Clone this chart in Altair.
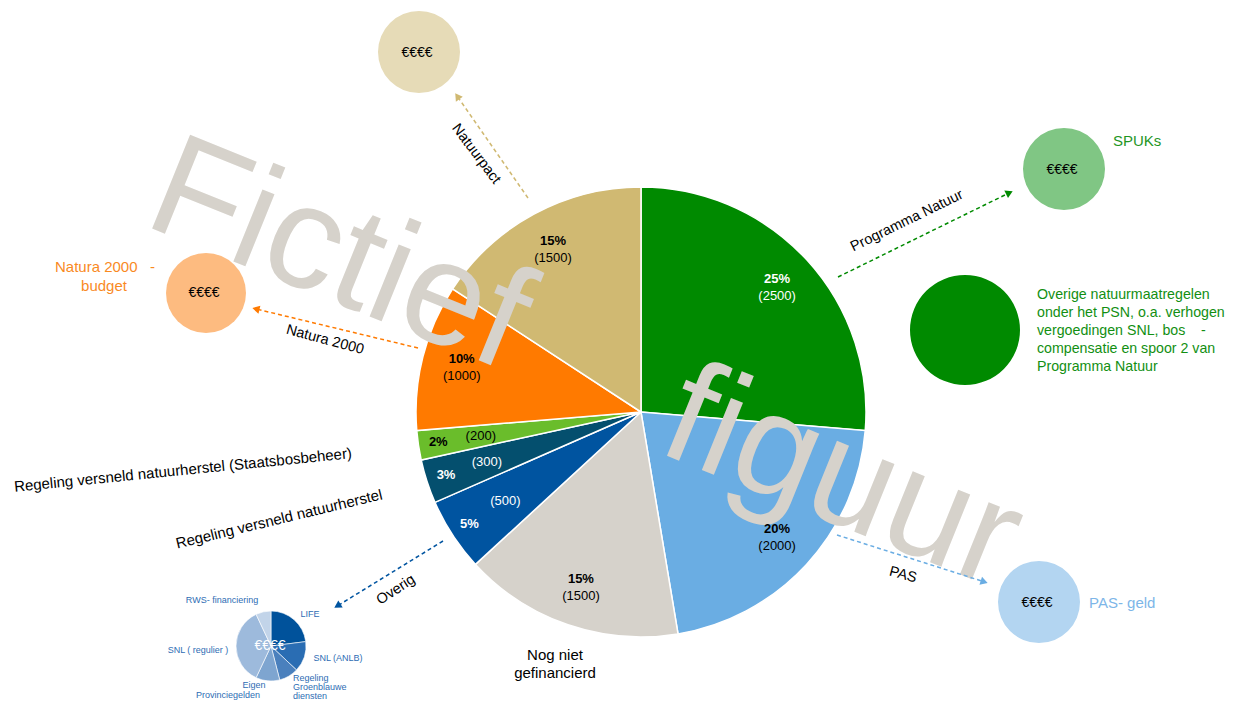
import math
import altair as alt
import pandas as pd

FONT = "Liberation Sans"

# ---------------- data: main pie (clockwise from 12 o'clock) ----------------
categories = ["Programma Natuur", "PAS", "Nog niet gefinancierd", "Overig",
              "Regeling versneld natuurherstel",
              "Regeling versneld natuurherstel (Staatsbosbeheer)",
              "Natura 2000", "Natuurpact"]
values = [2500, 2000, 1500, 500, 300, 200, 1000, 1500]
percents = [25, 20, 15, 5, 3, 2, 10, 15]
slice_colors = ["#008a00", "#6aade3", "#d6d2cb", "#0054a0",
                "#044f6e", "#6abd2b", "#ff7a00", "#d0b972"]
label_colors = ["#ffffff", "#000000", "#000000", "#ffffff",
                "#ffffff", "#000000", "#000000", "#000000"]

# ---------------- data: 'Overig' sub pie ----------------
sub_categories = ["LIFE", "SNL (ANLB)", "Regeling Groenblauwe diensten",
                  "Eigen Provinciegelden", "SNL (regulier)", "RWS-financiering"]
sub_values = [23, 14, 9, 11, 36, 7]
sub_colors = ["#00529b", "#2a6db3", "#4a80bd", "#7ea5d0", "#9dbadc", "#c2d4e9"]

# ---------------- annotation texts ----------------
flow_labels = ["Natuurpact", "Natura 2000", "Programma Natuur", "PAS", "Overig"]
flow_colors = ["#d0b972", "#ff7a00", "#008a00", "#6aade3", "#0054a0"]
target_colors = ["#e6dbb7", "#fdbb80", "#80c684", "#b3d5f1"]
euro = "€€€€"
NB = "\u00a0"
overige_lines = ["Overige natuurmaatregelen", "onder het PSN, o.a. verhogen",
                 "vergoedingen SNL, bos" + NB * 4 + "-", "compensatie en spoor 2 van",
                 "Programma Natuur"]
watermark_words = ["Fictief", "figuur"]

# ---------------- layout (page pixel frame) ----------------
W, H = 1221, 694
SX = alt.Scale(domain=[8, 8 + W], nice=False, zero=False)
SY = alt.Scale(domain=[8 + H, 8], nice=False, zero=False)
PIE_C = (641, 412)
PIE_R = 225
SUB_C = (271, 646)
SUB_R = 35

arrow_from = [(528, 198), (418, 348), (838, 277), (837, 535), (443, 541)]
arrow_to = [(455, 93), (252, 308), (1013, 191), (988, 583), (334, 608)]
flow_label_pos = [(476, 154, 53), (325, 340, 15), (907, 221, 334), (903, 575, 15), (396, 590, 327)]
circle_pos = [(419, 52, 41), (206, 293, 40), (1064, 169, 41), (1039, 602, 41)]
euro_pos = [(417, 53), (204, 293), (1062, 170), (1037, 603)]
big_circle = (965, 330, 55)

# ---------------- frames ----------------
n = len(values)
big = [p >= 6 for p in percents]
pie_df = pd.DataFrame({
    "idx": list(range(n)), "cat": categories, "value": values,
    "color": slice_colors, "tcol": label_colors,
    "pct_big": [f"{p}%" if b else "" for p, b in zip(percents, big)],
    "val_big": [f"({v})" if b else "" for v, b in zip(values, big)],
    "pct_small": [f"{p}%" if not b else "" for p, b in zip(percents, big)],
    "val_small": [f"({v})" if not b else "" for v, b in zip(values, big)],
})
sub_df = pd.DataFrame({"idx": list(range(len(sub_values))), "cat": sub_categories,
                       "value": sub_values, "color": sub_colors})

cx, cy = PIE_C[0] - 8, PIE_C[1] - 8
scx, scy = SUB_C[0] - 8, SUB_C[1] - 8

arc = alt.Chart(pie_df).mark_arc(outerRadius=PIE_R, stroke="white", strokeWidth=1.5).encode(
    theta=alt.Theta("value:Q", stack=True), order=alt.Order("idx:Q"),
    color=alt.Color("color:N", scale=None), x=alt.value(cx), y=alt.value(cy))


def pie_text(field, radius, dy, bold):
    return alt.Chart(pie_df).mark_text(
        radius=radius, dy=dy, fontSize=13, font=FONT,
        fontWeight="bold" if bold else "normal", align="center", baseline="middle"
    ).encode(theta=alt.Theta("value:Q", stack=True), order=alt.Order("idx:Q"),
             x=alt.value(cx), y=alt.value(cy), text=alt.Text(f"{field}:N"),
             color=alt.Color("tcol:N", scale=None))


pie_labels = [pie_text("pct_big", 185, -8, True), pie_text("val_big", 185, 9, False),
              pie_text("pct_small", 205, 0, True), pie_text("val_small", 162, 0, False)]

sub_arc = alt.Chart(sub_df).mark_arc(outerRadius=SUB_R, stroke="white", strokeWidth=0.6).encode(
    theta=alt.Theta("value:Q", stack=True), order=alt.Order("idx:Q"),
    color=alt.Color("color:N", scale=None), x=alt.value(scx), y=alt.value(scy))

# watermark
wm_df = pd.DataFrame({"text": watermark_words, "x": [141, 655], "y": [224, 451], "angle": [22, 22]})
watermark = alt.Chart(wm_df).mark_text(
    align="left", baseline="alphabetic", fontSize=147, font=FONT, color="#d6d2cb"
).encode(x=alt.X("x:Q", scale=SX, axis=None), y=alt.Y("y:Q", scale=SY, axis=None),
         text="text:N", angle=alt.Angle("angle:Q", scale=None))

# circles (Vega circle symbol: size = (2r)^2)
circ_df = pd.DataFrame({
    "x": [p[0] for p in circle_pos] + [big_circle[0]],
    "y": [p[1] for p in circle_pos] + [big_circle[1]],
    "size": [(2 * p[2]) ** 2 for p in circle_pos] + [(2 * big_circle[2]) ** 2],
    "color": target_colors + ["#008a00"],
})
circles = alt.Chart(circ_df).mark_circle(opacity=1).encode(
    x=alt.X("x:Q", scale=SX, axis=None), y=alt.Y("y:Q", scale=SY, axis=None),
    size=alt.Size("size:Q", scale=None), color=alt.Color("color:N", scale=None))

# arrows
rows, heads = [], []
for (x1, y1), (x2, y2), col in zip(arrow_from, arrow_to, flow_colors):
    dx, dy = x2 - x1, y2 - y1
    L = math.hypot(dx, dy)
    ux, uy = dx / L, dy / L
    rows.append({"x": x1, "y": y1, "x2": x2 - 7 * ux, "y2": y2 - 7 * uy, "color": col})
    ang = math.degrees(math.atan2(dx, -dy)) % 360
    heads.append({"x": x2 - 4 * ux, "y": y2 - 4 * uy, "angle": ang, "color": col})
arrow_df = pd.DataFrame(rows)
head_df = pd.DataFrame(heads)
arrows = alt.Chart(arrow_df).mark_rule(strokeDash=[4, 3], strokeWidth=1.5).encode(
    x=alt.X("x:Q", scale=SX, axis=None), y=alt.Y("y:Q", scale=SY, axis=None),
    x2="x2:Q", y2="y2:Q", color=alt.Color("color:N", scale=None))
arrowheads = alt.Chart(head_df).mark_point(shape="triangle-up", filled=True, size=70, opacity=1).encode(
    x=alt.X("x:Q", scale=SX, axis=None), y=alt.Y("y:Q", scale=SY, axis=None),
    angle=alt.Angle("angle:Q", scale=None), color=alt.Color("color:N", scale=None))

# centered (possibly rotated) texts
ctext_rows = []
for t, (x, y, a) in zip(flow_labels, flow_label_pos):
    ctext_rows.append({"text": t, "x": x, "y": y, "angle": a, "size": 14.5, "color": "#000000"})
ctext_rows += [
    {"text": "Regeling versneld natuurherstel (Staatsbosbeheer)", "x": 183, "y": 470, "angle": 354.3, "size": 15, "color": "#000000"},
    {"text": "Regeling versneld natuurherstel", "x": 279, "y": 519, "angle": 346.5, "size": 15, "color": "#000000"},
    {"text": "Nog niet", "x": 555, "y": 655, "angle": 0, "size": 15, "color": "#000000"},
    {"text": "gefinancierd", "x": 555, "y": 673, "angle": 0, "size": 15, "color": "#000000"},
    {"text": "Natura 2000" + NB * 3 + "-", "x": 105, "y": 267, "angle": 0, "size": 15, "color": "#f98a1f"},
    {"text": "budget", "x": 104, "y": 286, "angle": 0, "size": 15, "color": "#f98a1f"},
]
for (x, y) in euro_pos:
    ctext_rows.append({"text": euro, "x": x, "y": y, "angle": 0, "size": 14, "color": "#000000"})
ctext_rows.append({"text": euro, "x": SUB_C[0] - 1, "y": SUB_C[1], "angle": 0, "size": 14, "color": "#ffffff"})
sub_lab_color = "#2e6db4"
for t, x, y in [("RWS- financiering", 222, 600), ("LIFE", 310, 614), ("SNL ( regulier )", 198, 650),
                ("SNL (ANLB)", 338, 658), ("Eigen", 254, 685), ("Provinciegelden", 228, 695)]:
    ctext_rows.append({"text": t, "x": x, "y": y, "angle": 0, "size": 9, "color": sub_lab_color})
ctext_df = pd.DataFrame(ctext_rows)
ctexts = alt.Chart(ctext_df).mark_text(align="center", baseline="middle", font=FONT).encode(
    x=alt.X("x:Q", scale=SX, axis=None), y=alt.Y("y:Q", scale=SY, axis=None),
    text="text:N", angle=alt.Angle("angle:Q", scale=None),
    size=alt.Size("size:Q", scale=None), color=alt.Color("color:N", scale=None))

# left-aligned texts
ltext_rows = [{"text": "SPUKs", "x": 1113, "y": 141, "size": 15, "color": "#1f961f"},
              {"text": "PAS- geld", "x": 1089, "y": 603, "size": 15, "color": "#7db6e8"}]
for i, line in enumerate(overige_lines):
    ltext_rows.append({"text": line, "x": 1037, "y": 295 + 18 * i, "size": 14.2, "color": "#128f12"})
for i, line in enumerate(["Regeling", "Groenblauwe", "diensten"]):
    ltext_rows.append({"text": line, "x": 293, "y": 678 + 9 * i, "size": 9, "color": sub_lab_color})
ltext_df = pd.DataFrame(ltext_rows)
ltexts = alt.Chart(ltext_df).mark_text(align="left", baseline="middle", font=FONT).encode(
    x=alt.X("x:Q", scale=SX, axis=None), y=alt.Y("y:Q", scale=SY, axis=None),
    text="text:N", size=alt.Size("size:Q", scale=None), color=alt.Color("color:N", scale=None))

chart = alt.layer(
    arc, sub_arc, watermark, circles, arrows, arrowheads, *pie_labels, ctexts, ltexts
).resolve_scale(theta="independent").properties(
    width=W, height=H, padding=0, autosize=alt.AutoSizeParams(type="none")
).configure_view(stroke=None)

chart.save("out.html", embed_options={"renderer": "svg", "actions": False})
